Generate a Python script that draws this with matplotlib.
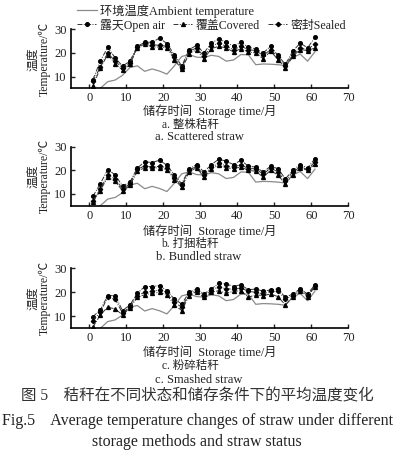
import matplotlib
matplotlib.use("Agg")
import matplotlib.pyplot as plt
from matplotlib.lines import Line2D

plt.rcParams['font.family'] = ['Liberation Serif', 'Noto Sans CJK SC', 'DejaVu Sans']

# storage months (odd months)
months = list(range(1, 62, 2))
amb_months = list(range(3, 62, 2))
ambient = [5.0, 7.8, 8.5, 10.5, 13.8, 14.5, 12.2, 13.2, 12.3, 11.0,
           14.5, 18.5, 19.3, 18.2, 18.0, 19.0, 18.5, 16.5, 17.0, 19.3,
           19.2, 15.0, 15.3, 15.2, 15.0, 14.6, 18.0, 19.5, 16.5, 20.5]

# a. scattered straw
a_open = [8.7, 16.5, 22.4, 17.9, 14.4, 16.5, 22.8, 24.5, 24.5, 26.3, 23.9, 19.3, 14.4, 21.4, 23.2, 20.0,
          24.2, 25.9, 24.5, 22.8, 24.5, 22.4, 21.7, 20.0, 22.8, 18.9, 15.1, 20.7, 24.2, 22.1, 26.6]
a_cov = [6.0, 13.5, 19.3, 15.5, 12.7, 15.1, 22.1, 23.8, 22.5, 22.5, 22.1, 17.2, 13.0, 19.7, 21.4, 17.5,
         21.8, 22.8, 22.1, 20.4, 21.8, 20.4, 20.0, 17.5, 20.7, 17.2, 13.7, 18.6, 21.4, 21.0, 22.1]
a_seal = [8.0, 14.0, 20.0, 16.5, 13.7, 15.8, 22.4, 24.2, 23.5, 23.2, 22.8, 18.3, 13.7, 20.7, 22.1, 18.6,
          22.8, 24.2, 22.8, 21.4, 22.8, 21.4, 21.0, 18.9, 21.4, 18.2, 14.4, 19.3, 22.1, 21.4, 23.9]

# b. bundled straw
b_open = [9.0, 14.3, 20.3, 18.1, 13.3, 15.0, 21.0, 23.6, 23.3, 24.3, 22.1, 18.1, 14.3, 20.7, 22.4, 19.3,
          22.4, 24.7, 23.9, 22.4, 24.3, 21.7, 21.4, 19.3, 21.7, 20.7, 16.4, 20.0, 22.4, 21.0, 25.0]
b_cov = [6.4, 11.4, 17.1, 15.3, 11.4, 13.6, 19.6, 21.1, 21.0, 21.1, 20.3, 16.0, 12.9, 19.3, 21.1, 17.1,
         20.7, 22.1, 21.1, 20.7, 21.4, 20.0, 19.6, 17.1, 20.0, 17.9, 14.3, 18.1, 21.0, 20.0, 22.6]
b_seal = [7.0, 12.1, 17.9, 16.4, 12.1, 14.3, 20.4, 21.9, 21.4, 21.7, 21.1, 16.7, 13.6, 20.0, 21.7, 17.9,
          21.4, 22.9, 21.9, 21.4, 22.4, 20.7, 20.7, 18.3, 21.0, 19.3, 15.3, 19.3, 21.4, 20.4, 23.6]

# c. smashed straw
c_open = [9.9, 12.6, 18.6, 18.6, 12.4, 14.7, 19.6, 22.4, 22.4, 22.8, 20.7, 17.2, 15.1, 20.0, 21.4, 19.3,
          21.4, 23.8, 23.5, 22.4, 23.2, 21.0, 21.4, 20.4, 21.0, 21.4, 17.9, 19.3, 21.4, 19.3, 23.2]
c_cov = [5.4, 10.6, 13.8, 13.1, 10.6, 13.5, 17.9, 19.0, 19.6, 20.0, 19.0, 14.7, 12.4, 18.6, 20.3, 17.9,
         20.0, 20.7, 19.6, 20.4, 20.7, 17.9, 19.0, 18.6, 19.3, 18.2, 14.7, 18.2, 20.7, 18.2, 22.4]
c_seal = [8.2, 11.7, 17.9, 17.2, 11.3, 14.0, 18.6, 20.0, 20.4, 21.0, 20.0, 15.8, 13.8, 19.3, 20.7, 18.6,
          20.7, 22.4, 21.4, 21.4, 21.8, 20.4, 20.0, 19.3, 20.4, 20.4, 17.2, 18.6, 21.0, 18.6, 22.8]

panels = [
    (a_open, a_cov, a_seal, 'a. 整株秸秆', 'a. Scattered straw'),
    (b_open, b_cov, b_seal, 'b. 打捆秸秆', 'b. Bundled straw'),
    (c_open, c_cov, c_seal, 'c. 粉碎秸秆', 'c. Smashed straw'),
]

W, H = 399, 454
fig = plt.figure(figsize=(W / 100, H / 100), dpi=100)
tc = '#222222'
dashdot = (0, (5, 1.5, 1, 1.5))

# axes boxes in pixels: (top, bottom)
boxes = [(29.3, 88.3), (146.7, 205.7), (268.3, 328.3)]
left_px, right_px = 70.7, 348.3
caption_y = [(111, 124.5, 137), (231, 243.5, 257), (352, 366, 380)]

for i, (op, cv, se, cn, en) in enumerate(panels):
    top, bot = boxes[i]
    ax = fig.add_axes([left_px / W, 1 - bot / H, (right_px - left_px) / W, (bot - top) / H])
    ax.plot(amb_months, ambient, color='#8a8a8a', lw=0.9)
    ax.plot(months, op, color='#333333', lw=0.7, ls=dashdot, marker='o', ms=2.6, mfc='black', mec='black')
    ax.plot(months, cv, color='#333333', lw=0.7, ls=dashdot, marker='^', ms=2.8, mfc='black', mec='black')
    ax.plot(months, se, color='#333333', lw=0.7, ls=dashdot, marker='D', ms=2.2, mfc='black', mec='black')
    ax.set_xlim(-5, 70)
    ax.set_ylim(5, 30)
    ax.set_xticks(range(0, 71, 10))
    ax.set_yticks([10, 20, 30])
    ax.spines['top'].set_visible(False)
    ax.spines['right'].set_visible(False)
    ax.spines['left'].set_linewidth(1.2)
    ax.spines['bottom'].set_linewidth(1.2)
    ax.tick_params(direction='in', length=3, width=1, labelsize=9, colors=tc, pad=3)
    ax.patch.set_alpha(0)
    ax.set_ylabel('温度\nTemperature/℃', fontsize=8.5, color=tc, labelpad=2, linespacing=1.0)

    xl, c1, c2 = caption_y[i]
    fig.text(210 / W, 1 - xl / H, '储存时间  Storage time/月', ha='center', va='center', fontsize=8.8, color=tc)
    fig.text(190 / W, 1 - c1 / H, cn, ha='center', va='center', fontsize=8.3, color=tc)
    fig.text(199 / W, 1 - c2 / H, en, ha='center', va='center', fontsize=9, color=tc)

# legend above first panel
h_amb = [Line2D([], [], color='#8a8a8a', lw=0.9)]
h_ser = [Line2D([], [], color='#333333', lw=0.7, ls=dashdot, marker='o', ms=2.6, mfc='black', mec='black'),
         Line2D([], [], color='#333333', lw=0.7, ls=dashdot, marker='^', ms=2.8, mfc='black', mec='black'),
         Line2D([], [], color='#333333', lw=0.7, ls=dashdot, marker='D', ms=2.2, mfc='black', mec='black')]
leg1 = fig.legend(h_amb, ['环境温度Ambient temperature'], loc='center left',
                  bbox_to_anchor=(77 / W, 1 - 11 / H), frameon=False, fontsize=8.8,
                  handlelength=1.6, handletextpad=0.3, borderpad=0, borderaxespad=0)
leg2 = fig.legend(h_ser, ['露天Open air', '覆盖Covered', '密封Sealed'], loc='center left',
                  bbox_to_anchor=(77 / W, 1 - 25 / H), frameon=False, fontsize=8.6, ncol=3,
                  handlelength=1.6, handletextpad=0.3, columnspacing=0.7, borderpad=0, borderaxespad=0)
for lg in (leg1, leg2):
    for t in lg.get_texts():
        t.set_color(tc)

# figure caption
fig.text(197 / W, 1 - 397 / H, '图 5    秸秆在不同状态和储存条件下的平均温度变化',
         ha='center', va='center', fontsize=11.2, color='#333333')
fig.text(197 / W, 1 - 421 / H, 'Fig.5    Average temperature changes of straw under different',
         ha='center', va='center', fontsize=11.5, color='#222222')
fig.text(197 / W, 1 - 442 / H, 'storage methods and straw status',
         ha='center', va='center', fontsize=11.5, color='#222222')

fig.savefig('out.png', dpi=100)
